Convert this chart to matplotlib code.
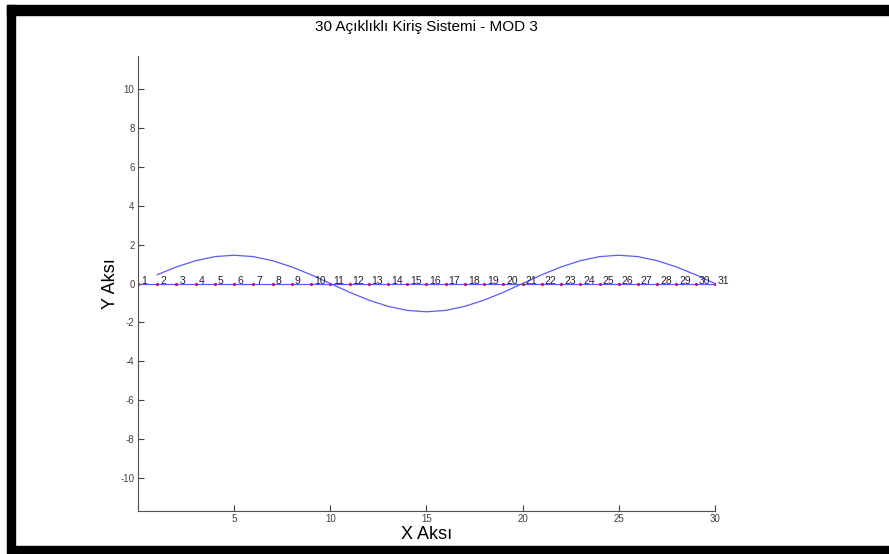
import numpy as np
import matplotlib
matplotlib.use('Agg')
import matplotlib.pyplot as plt
from matplotlib.patches import Rectangle

plt.rcParams['font.family'] = ['Liberation Sans', 'DejaVu Sans']
plt.rcParams['axes.unicode_minus'] = False

# node positions along the beam (31 supports, 30 spans)
node_x = list(range(0, 31))
node_labels = [str(i) for i in range(1, 32)]

# mode 3 shape, plotted at x = 1..30
mode_x = list(range(1, 31))
mode_y = [0.45, 0.85, 1.17, 1.38, 1.45, 1.38, 1.17, 0.85, 0.45, 0.0,
          -0.45, -0.85, -1.17, -1.38, -1.45, -1.38, -1.17, -0.85, -0.45, 0.0,
          0.45, 0.85, 1.17, 1.38, 1.45, 1.38, 1.17, 0.85, 0.45, 0.0]

fig = plt.figure(figsize=(8.89, 5.54), dpi=100)
ax = fig.add_axes([0.1552, 0.0776, 0.649, 0.8213])

# undeformed beam + supports
ax.plot(node_x, np.zeros(len(node_x)), color='#5a5aff', lw=0.9)
ax.plot(node_x, np.zeros(len(node_x)), '.', color='#e01010', ms=2.5)
for x, lab in zip(node_x, node_labels):
    ax.text(x + 0.15, 0.15, lab, fontsize=7.5, color='#202020',
            ha='left', va='center')

# mode shape
ax.plot(mode_x, mode_y, color='#5a5aff', lw=0.9)

ax.set_xlim(0, 30)
ax.set_ylim(-11.67, 11.67)
ax.set_xticks([5, 10, 15, 20, 25, 30])
ax.set_yticks(range(-10, 11, 2))
ax.tick_params(direction='in', length=4, labelsize=7, colors='#404040',
               width=0.8, pad=2.5)
for s in ['top', 'right']:
    ax.spines[s].set_visible(False)
for s in ['left', 'bottom']:
    ax.spines[s].set_color('#505050')
    ax.spines[s].set_linewidth(0.8)

ax.set_title('30 Açıklıklı Kiriş Sistemi - MOD 3', fontsize=11, pad=18)
ax.set_xlabel('X Aksı', fontsize=13, labelpad=1)
ax.set_ylabel('Y Aksı', fontsize=13, labelpad=1)

# black frame of the screenshot
W, H = 889.0, 554.0
for (x0, y0, w, h) in [(7, 5, 882, 10), (7, 5, 8, 542), (7, 546, 882, 8)]:
    fig.patches.append(Rectangle((x0 / W, 1 - (y0 + h) / H), w / W, h / H,
                                 transform=fig.transFigure, color='black',
                                 zorder=10))

fig.savefig('out.png', dpi=100)
